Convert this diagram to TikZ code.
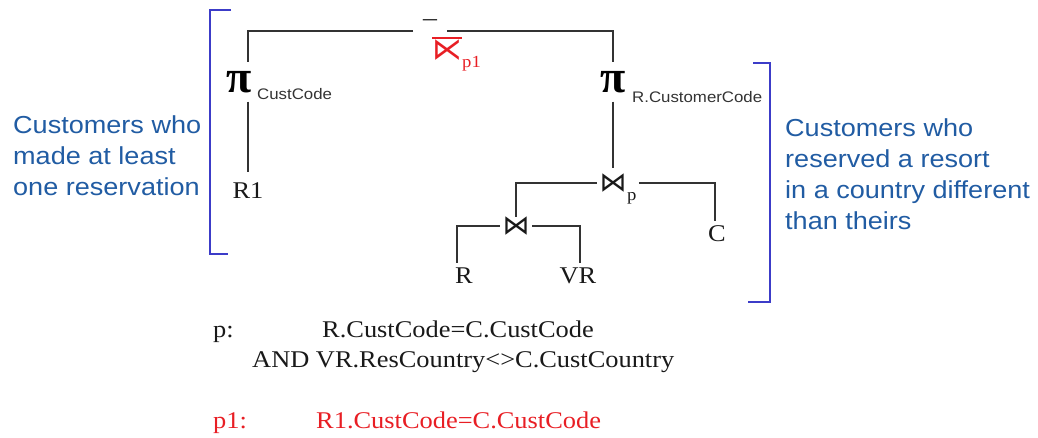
\documentclass[tikz,border=0pt]{standalone}
\usepackage{fontspec}
\setmainfont{Liberation Serif}
\newfontfamily\serifw[FakeStretch=1.1]{Liberation Serif}
\newfontfamily\sansw[FakeStretch=1.1]{Liberation Sans}
\newfontfamily\djv{DejaVu Sans}
\definecolor{treegray}{RGB}{51,51,51}
\definecolor{inkblack}{RGB}{25,25,25}
\definecolor{noteblue}{RGB}{33,92,163}
\definecolor{brackblue}{RGB}{60,60,200}
\definecolor{condred}{RGB}{232,30,36}
\begin{document}
\begin{tikzpicture}[x=1pt,y=-1pt,
  edge/.style={draw=treegray,line width=1.6pt},
  bracket/.style={draw=brackblue,line width=2pt},
  leaf/.style={font=\serifw\fontsize{24}{24}\selectfont,text=inkblack,inner sep=5pt},
  op/.style={font=\djv\fontsize{27}{27}\selectfont,text=inkblack,inner sep=0pt},
  pisym/.style={font=\bfseries\fontsize{46}{46}\selectfont,text=black,inner sep=0pt,minimum height=39pt},
  attr/.style={font=\sansw\fontsize{15.3}{15.3}\selectfont,text=treegray,inner sep=0pt,anchor=base west},
  subtext/.style={font=\serifw\fontsize{17}{17}\selectfont,inner sep=0pt,anchor=base west},
  note/.style={font=\sansw\fontsize{24.6}{31.3}\selectfont,text=noteblue,align=left,inner sep=0pt,anchor=base west},
  cond/.style={font=\serifw\fontsize{24}{24}\selectfont,text=inkblack,inner sep=0pt,anchor=base west}
]
\useasboundingbox (0,0) rectangle (1038,438);

% brackets
\draw[bracket] (231,10) -- (210,10) -- (210,254) -- (228,254);
\draw[bracket] (753,63) -- (770,63) -- (770,302) -- (748,302);

% operators and leaves
\node[font=\serifw\fontsize{28}{28}\selectfont,inner xsep=8pt,inner ysep=0pt,anchor=base,text=treegray] (minus) at (430,30) {−};
\node[font=\djv\fontsize{30}{30}\selectfont,text=condred,inner sep=0pt] (anti) at (447,49) {\vbox{\hrule height 1.6pt\kern 1.5pt\hbox{⋉}}};
\node[subtext,text=condred] (p1sub) at (462,68) {p1};

\node[pisym] (piL) at (239,82) {π};
\node[attr] (attrL) at (257,100) {CustCode};
\node[pisym] (piR) at (613,82) {π};
\node[attr] (attrR) at (632,103) {R.CustomerCode};

\node[leaf] (R1) at (248,191) {R1};

\node[op,minimum width=32pt,minimum height=30pt] (joinP) at (613,183) {⋈};
\node[subtext,text=inkblack] (pP) at (627,201) {p};
\node[op,minimum width=32pt,minimum height=18pt] (joinL) at (516,226) {⋈};

\node[leaf] (C) at (717,234) {C};
\node[leaf] (R) at (464,276) {R};
\node[leaf] (VR) at (578,276) {VR};

% connectors
\draw[edge] ([yshift=-1pt]minus.base west) -| (piL.north -| R1.north);
\draw[edge] ([yshift=-1pt]minus.base east) -| (piR.north);
\draw[edge] (piL.south -| R1.north) -- ([yshift=6pt]R1.north);
\draw[edge] (piR.south) -- (joinP.north);
\draw[edge] (joinP.west) -| (joinL.north);
\draw[edge] ([xshift=2pt]joinP.east -| pP.east) -| ([xshift=-2pt]C.north);
\draw[edge] (joinL.west) -| ([xshift=-7pt]R.north);
\draw[edge] (joinL.east) -| ([xshift=2pt]VR.north);

% notes (base anchor = last line)
\node[note] (noteL) at (13,196) {Customers who\\made at least\\one reservation};
\node[note] (noteR) at (785,230) {Customers who\\reserved a resort\\in a country different\\than theirs};

% conditions
\node[cond] (pLab) at (213,337) {p:};
\node[cond] (pC1) at (322,337) {R.CustCode=C.CustCode};
\node[cond] (pC2) at (252,367) {AND VR.ResCountry<>C.CustCountry};
\node[cond,text=condred] (p1Lab) at (213,428) {p1:};
\node[cond,text=condred] (p1C) at (316,428) {R1.CustCode=C.CustCode};
\end{tikzpicture}
\end{document}
